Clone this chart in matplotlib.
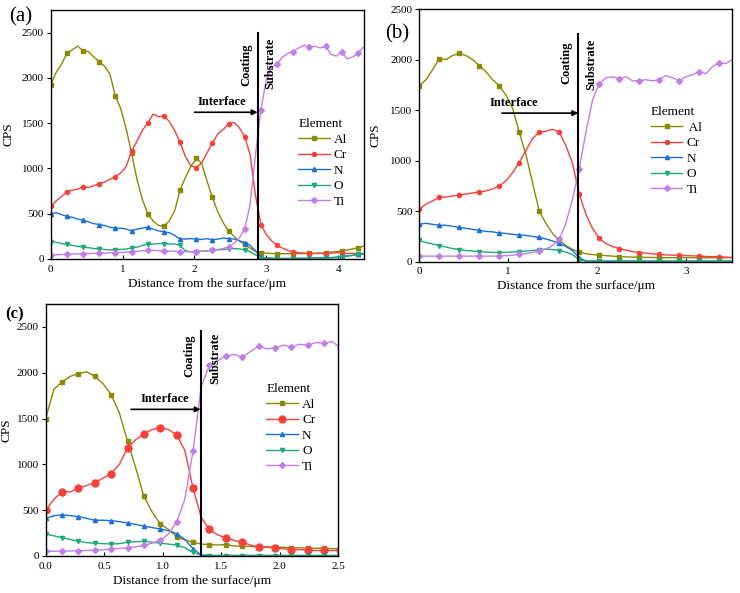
import numpy as np
import matplotlib
matplotlib.use("Agg")
import matplotlib.pyplot as plt

plt.rcParams['font.family'] = ['Liberation Serif', 'DejaVu Serif']
plt.rcParams['mathtext.fontset'] = 'stix'

elements = ['Al', 'Cr', 'N', 'O', 'Ti']
colors = ['#8a8a00', '#f5413c', '#1a6fdc', '#1eaa78', '#c27ee8']
markers = ['s', 'o', '^', 'v', 'D']

# ---- panel (a): step 0.075 um ----
x_a = np.round(np.arange(59) * 0.075, 3)
al_a = [1920, 2060, 2150, 2270, 2310, 2350, 2300, 2290, 2230, 2180, 2130, 2040, 1800, 1660, 1440,
        1170, 880, 660, 500, 420, 370, 360, 420, 530, 760, 900, 1020, 1110, 1060, 860,
        680, 520, 400, 310, 250, 200, 160, 120, 85, 70, 65, 60, 60, 58, 58,
        60, 58, 60, 62, 62, 65, 68, 75, 80, 90, 100, 110, 125, 140]
cr_a = [580, 640, 690, 740, 760, 770, 800, 790, 810, 830, 850, 880, 910, 950, 1020,
        1190, 1300, 1420, 1500, 1600, 1570, 1580, 1520, 1420, 1290, 1130, 1030, 1010, 1060, 1170,
        1280, 1380, 1430, 1490, 1510, 1450, 1350, 1150, 700, 380, 270, 200, 150, 120, 95,
        75, 70, 65, 60, 60, 62, 58, 65, 70, 65, 60, 62, 60, 58]
n_a = [500, 510, 490, 470, 460, 440, 430, 410, 390, 380, 370, 350, 340, 340, 330,
       310, 330, 340, 350, 330, 310, 300, 290, 260, 220, 220, 225, 220, 215, 225,
       210, 220, 230, 225, 220, 200, 180, 150, 90, 20, 10, 8, 5, 5, 5,
       5, 8, 8, 10, 10, 12, 15, 15, 20, 30, 35, 40, 50, 55]
o_a = [190, 185, 170, 160, 150, 140, 130, 125, 115, 110, 105, 100, 100, 105, 110,
       120, 130, 150, 160, 165, 170, 170, 165, 165, 150, 90, 80, 80, 85, 90,
       95, 100, 105, 110, 115, 110, 100, 80, 45, 15, 10, 8, 5, 5, 5,
       5, 5, 5, 5, 8, 10, 10, 12, 15, 25, 30, 40, 50, 60]
ti_a = [40, 45, 50, 50, 55, 55, 60, 60, 62, 65, 65, 68, 70, 72, 75,
        80, 85, 90, 95, 95, 92, 90, 88, 85, 82, 80, 80, 82, 85, 90,
        95, 105, 115, 135, 170, 230, 330, 600, 1150, 1650, 1980, 2120, 2150, 2230, 2270,
        2290, 2330, 2360, 2340, 2350, 2330, 2350, 2260, 2240, 2290, 2210, 2230, 2270, 2340]

# ---- panel (b): step 0.075 um ----
x_b = np.round(np.arange(48) * 0.075, 3)
al_b = [1740, 1800, 1900, 2010, 2000, 2040, 2060, 2040, 2000, 1940, 1880, 1800, 1740, 1650, 1520,
        1280, 1060, 780, 500, 380, 280, 210, 160, 120, 95, 80, 70, 65, 60, 55,
        50, 48, 45, 45, 42, 42, 40, 40, 40, 40, 40, 40, 38, 38, 40, 38, 40, 40]
cr_b = [520, 570, 600, 640, 640, 650, 660, 670, 680, 690, 700, 720, 750, 800, 880,
        980, 1100, 1220, 1280, 1290, 1310, 1280, 1150, 970, 670, 470, 330, 230, 180, 150,
        130, 115, 100, 90, 85, 78, 72, 68, 65, 62, 60, 58, 55, 52, 50, 48, 45, 42]
n_b = [370, 380, 370, 360, 360, 350, 340, 330, 320, 310, 300, 295, 285, 280, 270,
       265, 260, 250, 240, 225, 205, 180, 150, 110, 40, 8, 5, 5, 5, 5,
       5, 5, 5, 5, 5, 5, 5, 5, 5, 5, 5, 5, 5, 5, 5, 5, 5, 5]
o_b = [210, 190, 175, 160, 145, 130, 120, 110, 105, 100, 95, 92, 90, 92, 95,
       100, 105, 110, 120, 125, 120, 110, 95, 70, 20, 5, 5, 5, 5, 5,
       5, 5, 5, 5, 5, 5, 5, 5, 5, 5, 5, 5, 5, 5, 5, 5, 5, 5]
ti_b = [55, 55, 55, 55, 55, 55, 55, 55, 55, 55, 55, 55, 58, 60, 65,
        72, 80, 90, 105, 125, 160, 220, 380, 620, 920, 1280, 1600, 1760, 1820, 1830,
        1810, 1830, 1790, 1790, 1800, 1790, 1800, 1840, 1820, 1790, 1830, 1850, 1880, 1860, 1930,
        1970, 1960, 2000]

# ---- panel (c): step 0.07 um ----
x_c = np.round(np.arange(37) * 0.07, 3)
al_c = [1500, 1820, 1900, 1960, 1990, 2010, 1960, 1880, 1760, 1560, 1250, 960, 650, 480, 350,
        290, 210, 175, 150, 130, 125, 120, 125, 110, 105, 105, 100, 100, 95, 95,
        90, 90, 85, 85, 85, 80, 80]
cr_c = [500, 620, 700, 700, 740, 770, 800, 850, 900, 1000, 1180, 1270, 1330, 1380, 1400,
        1380, 1320, 1150, 740, 420, 290, 230, 200, 170, 150, 120, 100, 95, 90, 80,
        70, 70, 65, 60, 60, 60, 60]
n_c = [410, 440, 450, 440, 430, 410, 390, 390, 385, 375, 360, 345, 325, 310, 295,
       275, 245, 180, 80, 10, 5, 5, 5, 5, 5, 5, 5, 5, 5, 5,
       5, 5, 5, 5, 5, 5, 5]
o_c = [240, 220, 200, 180, 160, 145, 140, 135, 130, 135, 150, 155, 160, 150, 140,
       130, 120, 90, 40, 10, 5, 5, 5, 5, 5, 5, 5, 5, 5, 5,
       5, 5, 5, 5, 5, 5, 5]
ti_c = [50, 52, 55, 55, 58, 60, 62, 68, 75, 82, 90, 100, 115, 140, 170,
        240, 370, 620, 1150, 1850, 2080, 2130, 2180, 2200, 2170, 2230, 2290, 2260, 2270, 2300,
        2280, 2310, 2300, 2330, 2320, 2340, 2270]


def draw_panel(ax, x, series, xlim, ylim, xticks, xfmt, iface, labels, mevery, ylab_x,
               big_cr=False):
    for i, (el, y) in enumerate(zip(labels, series)):
        ms = 3
        if big_cr and i == 1:
            ms = 5
        ax.plot(x, y, color=colors[i], lw=1.0, marker=markers[i], ms=ms,
                markevery=mevery, label=el)
    ax.set_xlim(*xlim)
    ax.set_ylim(*ylim)
    ax.set_xticks(xticks)
    ax.set_xticklabels([xfmt % t for t in xticks])
    ax.set_yticks([0, 500, 1000, 1500, 2000, 2500])
    ax.tick_params(axis='x', direction='in', length=3, labelsize=8, pad=4)
    ax.tick_params(axis='y', direction='out', length=3, labelsize=8, pad=2)
    ax.set_xlabel('Distance from the surface/μm', fontsize=9.5, labelpad=3)
    ax.set_ylabel('CPS', fontsize=9.5)
    ax.yaxis.set_label_coords(ylab_x, 0.5)
    for s in ax.spines.values():
        s.set_linewidth(1.0)
    # interface line, arrow and texts
    xl, ytop, xa, ya, xt, yt, xc, yc, xs, ys = iface
    ax.plot([xl, xl], [0, ytop], color='black', lw=1.5)
    ax.annotate('', xy=(xl, ya), xytext=(xa, ya),
                arrowprops=dict(arrowstyle='-|>', color='black', lw=1.2, mutation_scale=8,
                                shrinkA=0, shrinkB=0))
    ax.text(xt, yt, 'Interface', fontsize=9, fontweight='bold', ha='center', va='bottom')
    ax.text(xc, yc, 'Coating', fontsize=9, fontweight='bold', rotation=90, ha='center', va='center')
    ax.text(xs, ys, 'Substrate', fontsize=9, fontweight='bold', rotation=90, ha='center', va='center')


fig = plt.figure(figsize=(7.4, 5.93), dpi=100)
ax_a = fig.add_axes([0.0685, 0.5633, 0.4234, 0.4199])
ax_b = fig.add_axes([0.5666, 0.5587, 0.4226, 0.4261])
ax_c = fig.add_axes([0.0618, 0.0624, 0.395, 0.425])

draw_panel(ax_a, x_a, [al_a, cr_a, n_a, o_a, ti_a], (0, 4.36), (0, 2750),
           [0, 1, 2, 3, 4], '%d',
           (2.88, 2500, 2.0, 1620, 2.38, 1670, 2.72, 2150, 3.06, 2160),
           elements, 3, -0.115)
draw_panel(ax_b, x_b, [al_b, cr_b, n_b, o_b, ti_b], (0, 3.52), (0, 2500),
           [0, 1, 2, 3], '%d',
           (1.79, 2250, 0.93, 1470, 1.06, 1510, 1.66, 1970, 1.94, 1950),
           [' Al', 'Cr', 'N', 'O', 'Ti'], 3, -0.122)
draw_panel(ax_c, x_c, [al_c, cr_c, n_c, o_c, ti_c], (0, 2.5), (0, 2750),
           [0, 0.5, 1.0, 1.5, 2.0, 2.5], '%.1f',
           (1.325, 2450, 0.73, 1600, 1.02, 1650, 1.23, 2180, 1.45, 2160),
           elements, 2, -0.115, big_cr=True)

for ax, pos in [(ax_a, (0.79, 0.565)), (ax_b, (0.74, 0.615)), (ax_c, (0.755, 0.685))]:
    leg = ax.legend(loc='upper left', bbox_to_anchor=pos, frameon=False, title='Element',
                    fontsize=9.5, title_fontsize=9.5, handlelength=2.4, handletextpad=0.3,
                    labelspacing=0.25, borderpad=0, borderaxespad=0, alignment='left')

fig.text(21 / 740, 1 - 17 / 593, '(a)', fontsize=15, ha='center', va='center')
fig.text(397 / 740, 1 - 34 / 593, '(b)', fontsize=15, ha='center', va='center')
fig.text(15 / 740, 1 - 314 / 593, '(c)', fontsize=12, fontweight='bold', ha='center', va='center')

fig.savefig('out.png', dpi=100)
